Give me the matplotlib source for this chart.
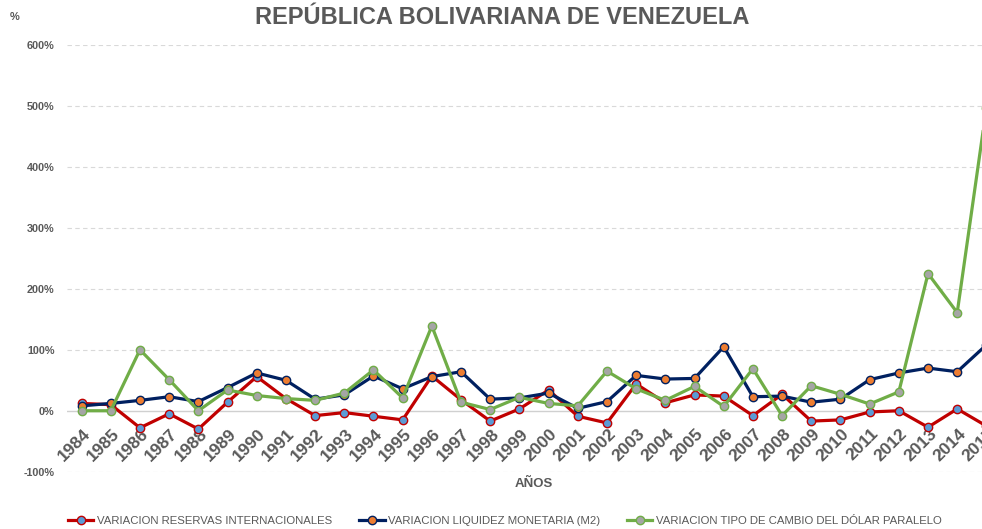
import numpy as np
import matplotlib.pyplot as plt
from matplotlib.transforms import ScaledTranslation

plt.rcParams['font.family'] = ['Liberation Sans', 'DejaVu Sans']

years = list(range(1984, 2016))
reservas = [12, 10, -28, -5, -30, 14, 56, 20, -8, -3, -9, -15, 57, 18, -17, 3,
            34, -9, -20, 44, 13, 26, 24, -8, 27, -17, -15, -2, 0, -27, 3, -25]
liquidez = [8, 12, 17, 23, 15, 38, 62, 50, 19, 26, 57, 36, 56, 64, 19, 21,
            29, 4, 15, 58, 52, 53, 105, 23, 24, 14, 19, 51, 62, 70, 64, 108]
dolar = [0, 0, 100, 51, 0, 34, 25, 20, 17, 29, 67, 21, 139, 14, 2, 22,
         12, 8, 65, 36, 17, 40, 7, 69, -8, 41, 27, 11, 31, 225, 161, 497]
labels = ['VARIACION RESERVAS INTERNACIONALES',
          'VARIACION LIQUIDEZ MONETARIA (M2)',
          'VARIACION TIPO DE CAMBIO DEL DÓLAR PARALELO']

GREY = '#595959'
W, H = 982, 529

fig = plt.figure(figsize=(W / 100, H / 100), dpi=100)
# plot area runs past the right edge of the figure, so 2015 is cut off
ax = fig.add_axes([67 / W, 1 - 471.7 / H, 934 / W, (471.7 - 45) / H])
x = np.arange(len(years))
ax.set_xlim(-0.5, len(years) - 0.5)
ax.set_ylim(-100, 600)

yt = list(range(-100, 700, 100))
for v in yt:
    if v == 0:
        ax.axhline(v, color='#D0D0D0', lw=1.0, zorder=1)
    else:
        ax.axhline(v, color='#D9D9D9', lw=0.8, ls=(0, (4, 3)), zorder=1)
ax.set_yticks(yt)
ax.set_yticklabels([f'{v}%' for v in yt], fontsize=7.8, fontweight='bold', color=GREY)
ax.tick_params(axis='y', length=0, pad=9)
ax.set_xticks([])
for s in ax.spines.values():
    s.set_visible(False)

# year labels hang off the 0% line
off = ScaledTranslation(1 / 100, -15 / 100, fig.dpi_scale_trans)
for i, yr in enumerate(years):
    ax.text(i, 0, str(yr), transform=ax.transData + off, rotation=45,
            rotation_mode='anchor', ha='right', va='top', fontsize=12.5,
            fontweight='bold', color=GREY, clip_on=False)

style = dict(lw=2.3, marker='o', ms=6, mew=1)
l1, = ax.plot(x, reservas, color='#C00000', mfc='#5B9BD5', mec='#C00000', zorder=3, **style)
l2, = ax.plot(x, liquidez, color='#002060', mfc='#ED7D31', mec='#002060', zorder=4, **style)
l3, = ax.plot(x, dolar, color='#70AD47', mfc='#A5A5A5', mec='#70AD47', zorder=5, **style)

fig.text(502 / W, 1 - 17 / H, 'REPÚBLICA BOLIVARIANA DE VENEZUELA', ha='center', va='center',
         fontsize=17, fontweight='bold', color=GREY)
fig.text(15 / W, 1 - 17 / H, '%', ha='center', va='center', fontsize=8,
         fontweight='bold', color=GREY)
fig.text(534 / W, 1 - 484 / H, 'AÑOS', ha='center', va='center', fontsize=9.5,
         fontweight='bold', color=GREY)

leg = fig.legend([l1, l2, l3], labels, loc='center', bbox_to_anchor=(505 / W, 1 - 521 / H),
                 ncol=3, frameon=False, fontsize=8.2, handlelength=2.2, handletextpad=0.3,
                 columnspacing=2.4, labelcolor=GREY)

fig.savefig('out.png', dpi=100)
